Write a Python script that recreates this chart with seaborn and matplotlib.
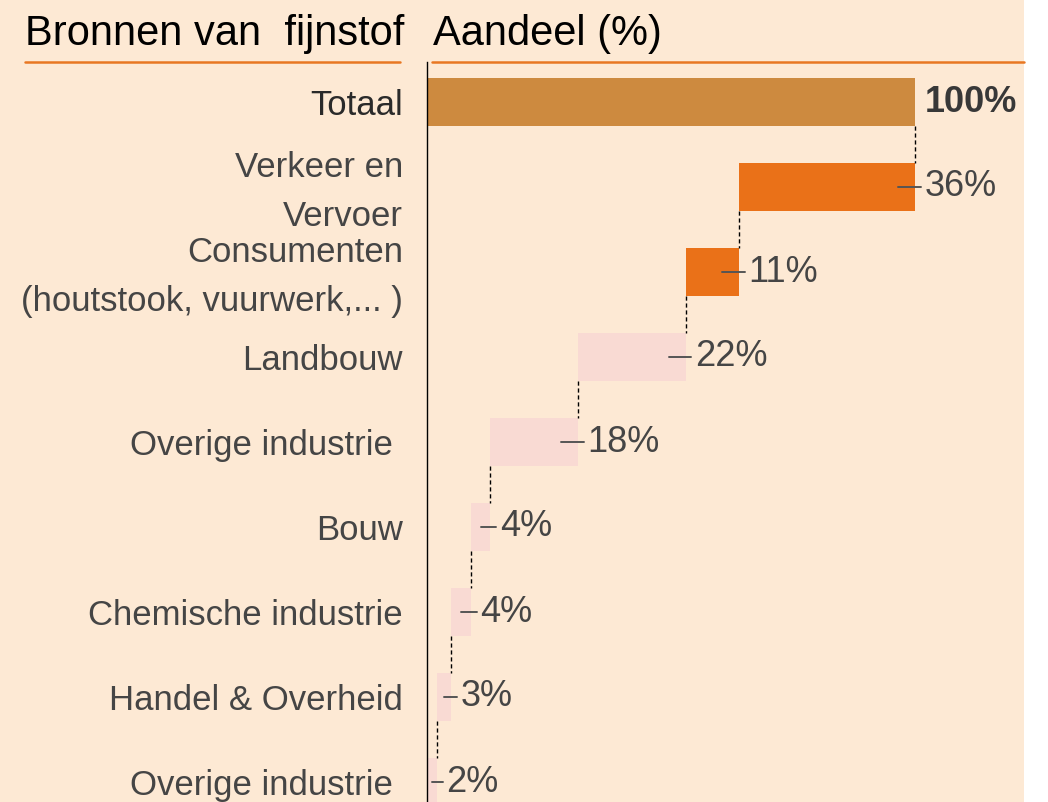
import numpy as np
import pandas as pd
import matplotlib.pyplot as plt
import matplotlib.transforms as mtransforms
import seaborn as sns

# -------------------------------
# Data
# -------------------------------
labels = ["Totaal", "Verkeer en\nVervoer", "Consumenten\n(houtstook, vuurwerk,... )",
          "Landbouw", "Overige industrie ", "Bouw", "Chemische industrie",
          "Handel & Overheid", "Overige industrie "]
shares = [100, 36, 11, 22, 18, 4, 4, 3, 2]
bar_colors = ["#CD8A3F", "#EA7118", "#EA7118", "#F9DAD3", "#F9DAD3",
              "#F9DAD3", "#F9DAD3", "#F9DAD3", "#F9DAD3"]

# waterfall: every source starts where the previous one ended
starts = [0] + list(100 - np.cumsum(shares[1:]))
ends = [s + v for s, v in zip(starts, shares)]
df = pd.DataFrame({"rij": range(len(shares)), "aandeel": shares, "start": starts})

# -------------------------------
# Figure
# -------------------------------
sns.set_theme(style="white")
plt.rcParams['font.family'] = ['Liberation Sans', 'DejaVu Sans']

W, H = 1048, 802
fig = plt.figure(figsize=(W / 100, H / 100), dpi=100, facecolor="white")
# peach background (white strip at the right)
fig.patches.append(plt.Rectangle((0, 0), 1024 / W, 1, transform=fig.transFigure,
                                 facecolor="#FDE9D4", edgecolor="none", zorder=-10))

ax = fig.add_axes([427 / W, 0, (1024 - 427) / W, (H - 62) / H])
ax.set_facecolor("none")
ax.set_zorder(1)

bar_h = 0.553
sns.barplot(data=df, x="aandeel", y="rij", orient="y", left=df["start"],
            width=bar_h, color="#EA7118", saturation=1, ax=ax)
for patch, c in zip(ax.patches, bar_colors):
    patch.set_facecolor(c)
    patch.set_edgecolor("none")

ax.set_xlim(0, (1024 - 427) / 4.88)
ax.set_ylim(8 + 20 / 85, -40 / 85)
ax.set_xlabel("")
ax.set_ylabel("")
ax.set_xticks([])
ax.set_yticks(range(len(labels)), labels)
ax.tick_params(axis="y", length=0, pad=17.3, labelsize=25, labelcolor="#454545")
shift_up = mtransforms.ScaledTranslation(0, 6.5 / 100, fig.dpi_scale_trans)
for t in ax.get_yticklabels():
    if "\n" in t.get_text():
        t.set_linespacing(1.62)
        t.set_transform(t.get_transform() + shift_up)
ax.get_yticklabels()[0].set_color("#2a2a2a")

for side in ["top", "right", "bottom"]:
    ax.spines[side].set_visible(False)
ax.spines["left"].set_color("black")
ax.spines["left"].set_linewidth(1)

# value labels with small tick marks
for i, (s, e, v) in enumerate(zip(starts, ends, shares)):
    if i > 0:
        ax.plot([max((s + e) / 2, e - 3.5), e + 1.2], [i, i], color="#555555", lw=1.4)
    ax.text(e + 1.9, i, f"{v}%", va="center", ha="left", fontsize=26,
            color="#383838" if i == 0 else "#454545",
            fontweight="bold" if i == 0 else "normal")

# dashed connectors between bars
for i in range(len(shares) - 1):
    ax.plot([ends[i + 1], ends[i + 1]], [i + bar_h / 2, i + 1 - bar_h / 2],
            color="black", lw=1, linestyle=(0, (3, 2)))

# header
fig.text(25 / W, 1 - 45 / H, "Bronnen van  fijnstof", fontsize=30,
         color="black", va="baseline")
fig.text(433 / W, 1 - 45 / H, "Aandeel (%)", fontsize=30,
         color="black", va="baseline")
fig.lines.append(plt.Line2D([25 / W, 400 / W], [1 - 62 / H] * 2, transform=fig.transFigure,
                            color="#E87722", lw=1.8))
fig.lines.append(plt.Line2D([432 / W, 1024 / W], [1 - 62 / H] * 2, transform=fig.transFigure,
                            color="#E87722", lw=1.8))

plt.savefig("out.png", dpi=100, facecolor=fig.get_facecolor())
plt.close()
